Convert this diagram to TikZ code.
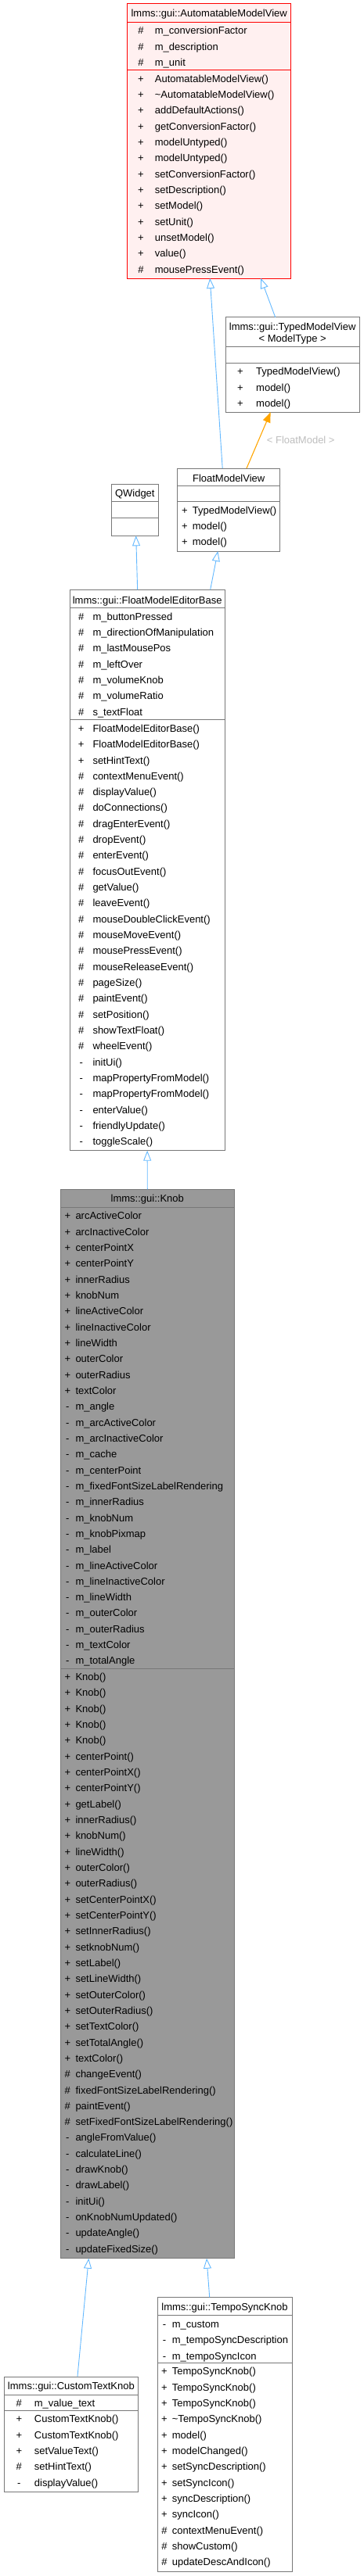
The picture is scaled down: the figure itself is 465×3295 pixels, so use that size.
\documentclass[tikz,border=0pt]{standalone}
\usepackage{fontspec}
\setmainfont{Liberation Sans}
\usetikzlibrary{arrows.meta}
\definecolor{edgeB}{RGB}{99,184,255}
\definecolor{edgeO}{RGB}{255,165,0}
\definecolor{boxG}{RGB}{120,120,120}
\definecolor{curG}{RGB}{153,153,153}
\definecolor{hiR}{RGB}{255,0,0}
\definecolor{hiF}{RGB}{255,240,240}
\definecolor{lblG}{RGB}{190,190,190}

% member rows: prefix, x of mark, x of name, y of first row, list mark/name
\newcommand{\memrows}[5]{%
  \foreach \vis/\mname [count=\i from 0] in {#5}{
    \node[mk] (#1m\i) at (#2,{#4+20.32*\i}) {\vis};
    \node[nm] (#1n\i) at (#3,{#4+20.32*\i}) {\mname};
  }}

\begin{document}
\begin{tikzpicture}[x=1bp,y=-1bp,
  txt/.style={font=\fontsize{13bp}{15bp}\selectfont,inner sep=0,text height=9.3bp,text depth=0bp},
  mk/.style={txt,anchor=center},
  nm/.style={txt,anchor=west},
  title/.style={font=\fontsize{13bp}{15bp}\selectfont,inner sep=0,align=center},
  box/.style={draw=boxG,fill=white,line width=1bp,inner sep=0,outer sep=0,anchor=north west},
  sep/.style={boxG,line width=1bp},
  inh/.style={edgeB,line width=0.9bp,-{Triangle[open,length=13bp,width=10bp]}},
  tpl/.style={edgeO,line width=1.1bp,-{Triangle[length=13bp,width=10bp]}}]
\useasboundingbox (0,0) rectangle (465,3295);

% AutomatableModelView
\node[box,draw=hiR,fill=hiF,minimum width=209bp,minimum height=351bp] (amv) at (162.7,5) {};
\draw[hiR,line width=1bp] (amv.north west) ++(0,23.3) -- ++(209,0);
\draw[hiR,line width=1bp] (amv.north west) ++(0,84.3) -- ++(209,0);
\node[title] (amvt) at (267.2,18.3) {lmms::gui::AutomatableModelView};
\memrows{amva}{180}{197.7}{39.3}{\#/m\_conversionFactor,\#/m\_description,\#/m\_unit}
\memrows{amvb}{180}{197.7}{100.7}{+/AutomatableModelView(),+/\textasciitilde AutomatableModelView(),
  +/addDefaultActions(),+/getConversionFactor(),+/modelUntyped(),+/modelUntyped(),
  +/setConversionFactor(),+/setDescription(),+/setModel(),+/setUnit(),+/unsetModel(),
  +/value(),\#/mousePressEvent()}

% TypedModelView
\node[box,minimum width=170.7bp,minimum height=121.6bp] (tmv) at (288.3,405.7) {};
\draw[sep] (tmv.north west) ++(0,37.6) -- ++(170.7,0);
\draw[sep] (tmv.north west) ++(0,58.3) -- ++(170.7,0);
\node[title] (tmvt) at (373.7,426.8) {lmms::gui::TypedModelView\\< ModelType >};
\memrows{tmvb}{307}{327}{475.3}{+/TypedModelView(),+/model(),+/model()}

% FloatModelView
\node[box,minimum width=131bp,minimum height=106bp] (fmv) at (226.7,599) {};
\draw[sep] (fmv.north west) ++(0,22) -- ++(131,0);
\draw[sep] (fmv.north west) ++(0,42.7) -- ++(131,0);
\node[title] (fmvt) at (292.2,612) {FloatModelView};
\memrows{fmvb}{236}{245.7}{652.7}{+/TypedModelView(),+/model(),+/model()}

% QWidget
\node[box,minimum width=60bp,minimum height=66.3bp] (qw) at (142.3,619) {};
\draw[sep] (qw.north west) ++(0,22.7) -- ++(60,0);
\draw[sep] (qw.north west) ++(0,43.3) -- ++(60,0);
\node[title] (qwt) at (172.3,632.3) {QWidget};

% FloatModelEditorBase
\node[box,minimum width=198.3bp,minimum height=717.4bp] (fmeb) at (89,754.3) {};
\draw[sep] (fmeb.north west) ++(0,23.4) -- ++(198.3,0);
\draw[sep] (fmeb.north west) ++(0,166.4) -- ++(198.3,0);
\node[title] (fmebt) at (188.2,768.7) {lmms::gui::FloatModelEditorBase};
\memrows{fmeba}{103.7}{118.3}{788.7}{\#/m\_buttonPressed,\#/m\_directionOfManipulation,
  \#/m\_lastMousePos,\#/m\_leftOver,\#/m\_volumeKnob,\#/m\_volumeRatio,\#/s\_textFloat}
\memrows{fmebb}{103.7}{118.3}{931.7}{+/FloatModelEditorBase(),+/FloatModelEditorBase(),
  +/setHintText(),\#/contextMenuEvent(),\#/displayValue(),\#/doConnections(),
  \#/dragEnterEvent(),\#/dropEvent(),\#/enterEvent(),\#/focusOutEvent(),\#/getValue(),
  \#/leaveEvent(),\#/mouseDoubleClickEvent(),\#/mouseMoveEvent(),\#/mousePressEvent(),
  \#/mouseReleaseEvent(),\#/pageSize(),\#/paintEvent(),\#/setPosition(),
  \#/showTextFloat(),\#/wheelEvent(),-/initUi(),-/mapPropertyFromModel(),
  -/mapPropertyFromModel(),-/enterValue(),-/friendlyUpdate(),-/toggleScale()}

% Knob
\node[box,fill=curG,minimum width=222bp,minimum height=1367.4bp] (knob) at (77.3,1521.3) {};
\draw[sep] (knob.north west) ++(0,22.7) -- ++(222,0);
\draw[sep] (knob.north west) ++(0,612.7) -- ++(222,0);
\node[title] (knobt) at (188.3,1534.3) {lmms::gui::Knob};
\memrows{knoba}{86.3}{96.3}{1555.3}{+/arcActiveColor,+/arcInactiveColor,+/centerPointX,
  +/centerPointY,+/innerRadius,+/knobNum,+/lineActiveColor,+/lineInactiveColor,
  +/lineWidth,+/outerColor,+/outerRadius,+/textColor,-/m\_angle,-/m\_arcActiveColor,
  -/m\_arcInactiveColor,-/m\_cache,-/m\_centerPoint,-/m\_fixedFontSizeLabelRendering,
  -/m\_innerRadius,-/m\_knobNum,-/m\_knobPixmap,-/m\_label,-/m\_lineActiveColor,
  -/m\_lineInactiveColor,-/m\_lineWidth,-/m\_outerColor,-/m\_outerRadius,
  -/m\_textColor,-/m\_totalAngle}
\memrows{knobb}{86.3}{96.3}{2145}{+/Knob(),+/Knob(),+/Knob(),+/Knob(),+/Knob(),
  +/centerPoint(),+/centerPointX(),+/centerPointY(),+/getLabel(),+/innerRadius(),
  +/knobNum(),+/lineWidth(),+/outerColor(),+/outerRadius(),+/setCenterPointX(),
  +/setCenterPointY(),+/setInnerRadius(),+/setknobNum(),+/setLabel(),+/setLineWidth(),
  +/setOuterColor(),+/setOuterRadius(),+/setTextColor(),+/setTotalAngle(),+/textColor(),
  \#/changeEvent(),\#/fixedFontSizeLabelRendering(),\#/paintEvent(),
  \#/setFixedFontSizeLabelRendering(),-/angleFromValue(),-/calculateLine(),-/drawKnob(),
  -/drawLabel(),-/initUi(),-/onKnobNumUpdated(),-/updateAngle(),-/updateFixedSize()}

% CustomTextKnob
\node[box,minimum width=171.7bp,minimum height=147.3bp] (ctk) at (5,3040) {};
\draw[sep] (ctk.north west) ++(0,23.3) -- ++(171.7,0);
\draw[sep] (ctk.north west) ++(0,43.3) -- ++(171.7,0);
\node[title] (ctkt) at (90.9,3053.3) {lmms::gui::CustomTextKnob};
\memrows{ctka}{24.3}{43.7}{3074}{\#/m\_value\_text}
\memrows{ctkb}{24.3}{43.7}{3094.3}{+/CustomTextKnob(),+/CustomTextKnob(),+/setValueText(),
  \#/setHintText(),-/displayValue()}

% TempoSyncKnob
\node[box,minimum width=172bp,minimum height=351bp] (tsk) at (201,2938.3) {};
\draw[sep] (tsk.north west) ++(0,23.4) -- ++(172,0);
\draw[sep] (tsk.north west) ++(0,84) -- ++(172,0);
\node[title] (tskt) at (287,2951.7) {lmms::gui::TempoSyncKnob};
\memrows{tska}{210}{219.7}{2972.7}{-/m\_custom,-/m\_tempoSyncDescription,-/m\_tempoSyncIcon}
\memrows{tskb}{210}{219.7}{3033.3}{+/TempoSyncKnob(),+/TempoSyncKnob(),+/TempoSyncKnob(),
  +/\textasciitilde TempoSyncKnob(),+/model(),+/modelChanged(),+/setSyncDescription(),
  +/setSyncIcon(),+/syncDescription(),+/syncIcon(),\#/contextMenuEvent(),
  \#/showCustom(),\#/updateDescAndIcon()}

% inheritance
\draw[inh] ([xshift=-8bp]fmv.north) -- ([xshift=1bp]amv.south);
\draw[inh] ([xshift=-22bp]tmv.north) -- ([xshift=66bp]amv.south);
\draw[tpl] ([xshift=22.8bp]fmv.north) -- ([xshift=-28bp]tmv.south)
  node[pos=0.5,anchor=west,xshift=10bp,title,text=lblG] (tpllbl) {< FloatModel >};
\draw[inh] ([xshift=-12.5bp]fmeb.north) -- ([xshift=1.4bp]qw.south);
\draw[inh] ([xshift=80.5bp]fmeb.north) -- ([xshift=-13.9bp]fmv.south);
\draw[inh] (knob.north) -- (fmeb.south);
\draw[inh] ([xshift=8.1bp]ctk.north) -- ([xshift=-75bp]knob.south);
\draw[inh] ([xshift=-19.3bp]tsk.north) -- ([xshift=75.7bp]knob.south);
\end{tikzpicture}
\end{document}
